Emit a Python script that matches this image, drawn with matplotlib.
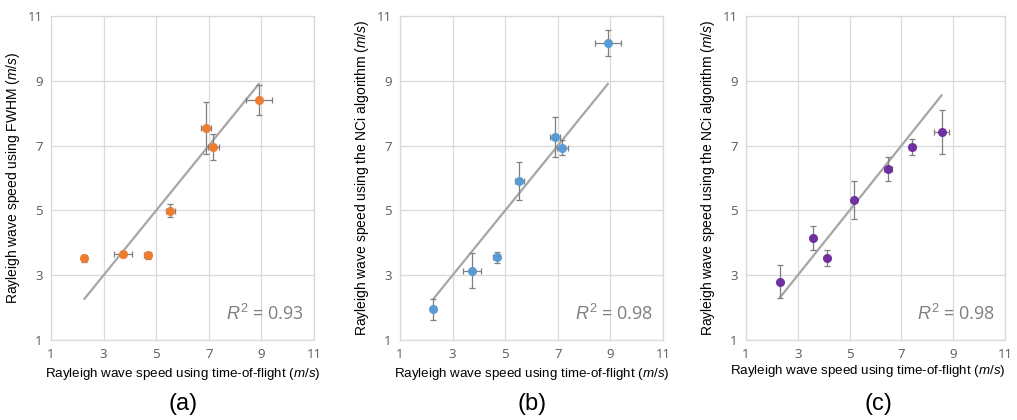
import matplotlib
matplotlib.use('Agg')
import matplotlib.pyplot as plt
import numpy as np

# time-of-flight speeds (m/s), shared by panels a and b
tof_ab = [2.27, 3.74, 4.67, 5.54, 6.89, 7.17, 8.90]
tof_ab_err = [0.10, 0.33, 0.12, 0.17, 0.20, 0.20, 0.49]

fwhm = [3.52, 3.65, 3.61, 4.99, 7.55, 6.95, 8.41]
fwhm_err = [0.10, 0.08, 0.10, 0.20, 0.80, 0.40, 0.47]

nci_b = [1.95, 3.13, 3.55, 5.90, 7.27, 6.94, 10.16]
nci_b_err = [0.33, 0.54, 0.18, 0.59, 0.62, 0.22, 0.40]

tof_c = [2.32, 3.58, 4.14, 5.17, 6.48, 7.41, 8.55]
tof_c_err = [0.05, 0.05, 0.05, 0.08, 0.15, 0.10, 0.28]
nci_c = [2.80, 4.15, 3.54, 5.32, 6.28, 6.96, 7.43]
nci_c_err = [0.50, 0.37, 0.25, 0.59, 0.38, 0.25, 0.68]

r2_values = ['0.93', '0.98', '0.98']
panel_names = ['(a)', '(b)', '(c)']
ylabels = ['Rayleigh wave speed using FWHM ($\\it{m/s}$)',
           'Rayleigh wave speed using the NCi algorithm ($\\it{m/s}$)',
           'Rayleigh wave speed using the NCi algorithm ($\\it{m/s}$)']
xlabel = 'Rayleigh wave speed using time-of-flight ($\\it{m/s}$)'
colors = ['#ED7D31', '#5B9BD5', '#7030A0']
ticks = [1, 3, 5, 7, 9, 11]

plt.rcParams['font.family'] = ['Liberation Sans', 'DejaVu Sans']
plt.rcParams['mathtext.fontset'] = 'custom'
plt.rcParams['mathtext.rm'] = 'Liberation Sans'
plt.rcParams['mathtext.it'] = 'Liberation Sans:italic'

fig = plt.figure(figsize=(10.17, 4.2), dpi=100)

lefts = [51, 400, 746]
widths = [263, 263, 259]
data = [(tof_ab, tof_ab_err, fwhm, fwhm_err),
        (tof_ab, tof_ab_err, nci_b, nci_b_err),
        (tof_c, tof_c_err, nci_c, nci_c_err)]

for i in range(3):
    ax = fig.add_axes([lefts[i] / 1017, 80 / 420, widths[i] / 1017, 324 / 420])
    x, xe, y, ye = data[i]
    # identity reference line over the measured range
    xl = np.array([min(x), max(x)])
    ax.plot(xl, xl, color='#A6A6A6', lw=1.6, zorder=2)
    ax.errorbar(x, y, xerr=xe, yerr=ye, fmt='o', color=colors[i], ms=5.5,
                ecolor='#7F7F7F', elinewidth=0.9, capsize=2, capthick=0.9, zorder=3)
    ax.set_xlim(1, 11)
    ax.set_ylim(1, 11)
    ax.set_xticks(ticks)
    ax.set_yticks(ticks)
    ax.grid(True, color='#D9D9D9', lw=0.9)
    ax.set_axisbelow(True)
    for s in ax.spines.values():
        s.set_color('#D9D9D9')
        s.set_linewidth(0.9)
    ax.tick_params(length=0, pad=6, labelsize=9.5, labelcolor='#595959')
    for lab in ax.get_xticklabels() + ax.get_yticklabels():
        lab.set_family('Open Sans')
    ax.set_xlabel(xlabel, fontsize=9.6, labelpad=3)
    if i == 2:
        ax.xaxis.set_label_coords(0.47, -0.07, transform=ax.transAxes)
        ax.xaxis.label.set_va('top')
    ax.set_ylabel(ylabels[i], fontsize=10, labelpad=4)
    ax.text(0.96, 0.05, '$\\it{R}^{2}$ = ' + r2_values[i], transform=ax.transAxes,
            ha='right', va='bottom', fontsize=13, color='#7F7F7F', family='Open Sans')
    fig.text((lefts[i] + 132) / 1017, 16 / 420, panel_names[i], ha='center', va='center',
             fontsize=17)

fig.savefig('out.png', dpi=100)
